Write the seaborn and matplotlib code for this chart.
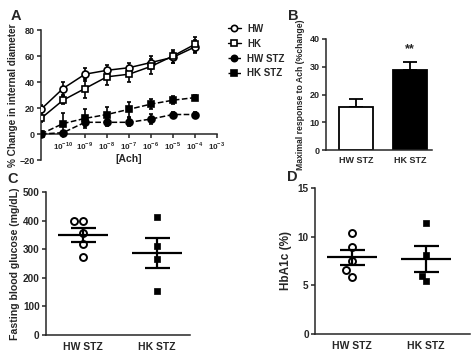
import matplotlib
matplotlib.use("Agg")
import matplotlib.pyplot as plt
import matplotlib.ticker as mticker
import numpy as np
import pandas as pd
import seaborn as sns

# panel A - concentration response
ach_conc = [1e-11, 1e-10, 1e-9, 1e-8, 1e-7, 1e-6, 1e-5, 1e-4]
hw_mean = [19, 35, 46, 49, 51, 55, 59, 67]
hw_err = [3, 5, 5, 4, 4, 5, 4, 5]
hk_mean = [12, 26, 35, 44, 46, 52, 60, 69]
hk_err = [3, 3, 7, 6, 6, 6, 5, 6]
hwstz_mean = [0, 1, 9, 9, 9, 11.5, 15, 15]
hwstz_err = [0, 1, 3, 3, 3, 4, 2, 2]
hkstz_mean = [0, 8, 12, 15, 19, 23, 26, 28]
hkstz_err = [0, 8, 7, 6, 6, 4, 3, 2]

# panel B - maximal response
groups = ["HW STZ", "HK STZ"]
max_resp = [15.5, 29]
max_resp_err = [3, 2.7]

# panel C - fasting blood glucose (individual animals)
glucose_hw = [399, 399, 356, 318, 272]
glucose_hk = [414, 311, 266, 155]

# panel D - HbA1c
hba1c_hw = [10.4, 8.9, 7.5, 6.6, 5.9]
hba1c_hk = [11.4, 8.1, 6.0, 5.4]

sns.set_style("ticks")
plt.rcParams["font.family"] = ["Liberation Sans", "DejaVu Sans"]
plt.rcParams["font.weight"] = "bold"
plt.rcParams["mathtext.fontset"] = "custom"
plt.rcParams["mathtext.rm"] = "Liberation Sans:bold"
plt.rcParams["mathtext.bf"] = "Liberation Sans:bold"
plt.rcParams["axes.linewidth"] = 1.1
plt.rcParams["xtick.major.width"] = 1.1
plt.rcParams["ytick.major.width"] = 1.1
plt.rcParams["xtick.major.size"] = 3
plt.rcParams["ytick.major.size"] = 3
plt.rcParams["xtick.major.pad"] = 2
plt.rcParams["ytick.major.pad"] = 1.5

fig = plt.figure(figsize=(4.74, 3.61), dpi=100)
W, H = 474, 361


def px_axes(left, top, right, bottom):
    return fig.add_axes([left / W, 1 - bottom / H, (right - left) / W, (bottom - top) / H])


def style_axes(ax):
    sns.despine(ax=ax)
    ax.tick_params(labelsize=6.5)
    for lab in ax.get_xticklabels() + ax.get_yticklabels():
        lab.set_fontweight("bold")


# ---- A ----
axA = px_axes(41, 30, 217, 160)
df_a = pd.DataFrame({
    "conc": ach_conc * 4,
    "val": hw_mean + hk_mean + hwstz_mean + hkstz_mean,
    "err": hw_err + hk_err + hwstz_err + hkstz_err,
    "grp": ["HW"] * 8 + ["HK"] * 8 + ["HW STZ"] * 8 + ["HK STZ"] * 8,
})
styles = {
    "HW": dict(marker="o", mfc="white", ls="-"),
    "HK": dict(marker="s", mfc="white", ls="-"),
    "HW STZ": dict(marker="o", mfc="black", ls="--"),
    "HK STZ": dict(marker="s", mfc="black", ls="--"),
}
handles = []
for g, st in styles.items():
    sub = df_a[df_a["grp"] == g]
    axA.errorbar(sub["conc"], sub["val"], yerr=sub["err"], fmt="none",
                 ecolor="black", elinewidth=1.2, capsize=1.5, capthick=1.2, zorder=2)
    sns.lineplot(data=sub, x="conc", y="val", ax=axA, color="black",
                 linestyle=st["ls"], linewidth=1.1, marker=st["marker"],
                 markersize=5, markerfacecolor=st["mfc"], markeredgecolor="black",
                 markeredgewidth=1.2, zorder=3)
    h, = axA.plot([], [], color="black", linestyle=st["ls"], linewidth=1.0,
                  marker=st["marker"], markersize=4.5, markerfacecolor=st["mfc"],
                  markeredgecolor="black", markeredgewidth=1.2)
    handles.append(h)
axA.set_xscale("log")
axA.set_xlim(1e-11, 1e-3)
axA.set_ylim(-20, 80)
axA.set_yticks([-20, 0, 20, 40, 60, 80])
xt = [1e-10, 1e-9, 1e-8, 1e-7, 1e-6, 1e-5, 1e-4, 1e-3]
axA.set_xticks(xt)
axA.set_xticklabels([r"$10^{%d}$" % int(round(np.log10(v))) for v in xt])
axA.xaxis.set_minor_locator(mticker.NullLocator())
axA.spines["bottom"].set_position(("data", 0))
style_axes(axA)
axA.tick_params(axis="x", labelsize=5.8, pad=1)
axA.set_xlabel("[Ach]", fontsize=7.5, fontweight="bold")
axA.xaxis.label.set_verticalalignment("center")
axA.xaxis.set_label_coords(0.5, 0.01)
axA.set_ylabel("% Change in internal diameter", fontsize=7.2, fontweight="bold", labelpad=1)
fig.legend(handles, list(styles.keys()), loc="upper left",
           bbox_to_anchor=(224 / W, 1 - 20 / H), frameon=False,
           prop={"size": 7, "weight": "bold"}, handlelength=1.3,
           handletextpad=0.7, labelspacing=0.5, borderaxespad=0)

# ---- B ----
axB = px_axes(326, 39, 432, 150)
df_b = pd.DataFrame({"grp": groups, "val": max_resp, "err": max_resp_err})
sns.barplot(data=df_b, x="grp", y="val", hue="grp", palette=["white", "black"],
            edgecolor="black", linewidth=1.3, width=0.63, ax=axB, legend=False,
            zorder=2)
axB.errorbar(range(len(groups)), df_b["val"], yerr=[[0, 0], df_b["err"]],
             fmt="none", ecolor="black", elinewidth=1.3, capsize=5, capthick=1.3,
             zorder=1)
axB.text(1, 34, "**", ha="center", va="bottom", fontsize=9, fontweight="bold")
axB.set_xlim(-0.55, 1.4)
axB.set_ylim(0, 40)
axB.set_yticks([0, 10, 20, 30, 40])
style_axes(axB)
axB.tick_params(axis="x", labelsize=6.5, length=0, pad=4)
axB.set_xlabel("")
axB.set_ylabel("Maximal response to Ach (%change)", fontsize=6.2, fontweight="bold", labelpad=3)


# ---- C / D ----
def scatter_panel(ax, hw_vals, hk_vals):
    df = pd.DataFrame({"grp": ["HW STZ"] * len(hw_vals) + ["HK STZ"] * len(hk_vals),
                       "val": hw_vals + hk_vals})
    sns.swarmplot(data=df[df["grp"] == "HW STZ"], x="grp", y="val", order=groups,
                  marker="o", color="white", edgecolor="black", linewidth=1.4,
                  size=5, ax=ax, zorder=3)
    sns.swarmplot(data=df[df["grp"] == "HK STZ"], x="grp", y="val", order=groups,
                  marker="s", color="black", edgecolor="black", linewidth=0.5,
                  size=4.5, ax=ax, zorder=3)
    stats = df.groupby("grp", sort=False)["val"].agg(["mean", "sem"]).reindex(groups)
    ax.errorbar(range(len(groups)), stats["mean"], yerr=stats["sem"], fmt="_",
                color="black", markersize=36, mew=1.6, elinewidth=1.6,
                capsize=9, capthick=1.6, zorder=4)
    ax.set_xlabel("")
    style_axes(ax)
    ax.tick_params(axis="x", labelsize=7.5, length=0, pad=5)
    ax.tick_params(axis="y", labelsize=7.2)


axC = px_axes(46, 192, 190, 335)
scatter_panel(axC, glucose_hw, glucose_hk)
axC.set_xlim(-0.5, 1.45)
axC.set_ylim(0, 500)
axC.set_yticks([0, 100, 200, 300, 400, 500])
axC.set_ylabel("Fasting blood glucose (mg/dL)", fontsize=7.6, fontweight="bold", labelpad=2)

axD = px_axes(315, 188, 470, 334)
scatter_panel(axD, hba1c_hw, hba1c_hk)
axD.set_xlim(-0.5, 1.6)
axD.set_ylim(0, 15)
axD.set_yticks([0, 5, 10, 15])
axD.set_ylabel("HbA1c (%)", fontsize=8.5, fontweight="bold", labelpad=4)

# panel letters
for letter, x, y in [("A", 11, 16), ("B", 288, 16), ("C", 7, 179), ("D", 287, 177)]:
    fig.text(x / W, 1 - y / H, letter, fontsize=10.5, fontweight="bold", va="center")

fig.savefig("out.png", dpi=100)
